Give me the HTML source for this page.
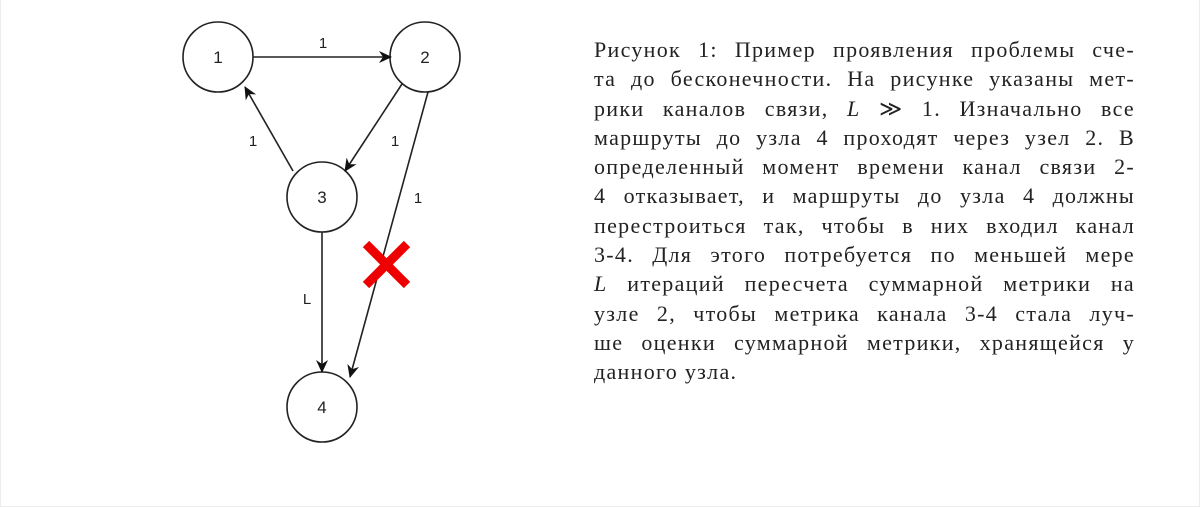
<!DOCTYPE html>
<html><head><meta charset="utf-8"><style>
body{margin:0;width:1200px;height:508px;background:#fff;overflow:hidden;position:relative}
.frame{position:absolute;left:0;top:0;width:1198px;height:506px;border:1px solid #ececec;border-top:none}
.txt{position:absolute;left:594px;top:35px;width:541px;font-family:"Liberation Serif",serif;font-size:22px;letter-spacing:1.3px;line-height:29.3px;color:#222}
.txt div{text-align:justify;text-align-last:justify;white-space:nowrap}
.txt div.last{text-align-last:left}
</style></head><body>
<div class="frame"></div>
<svg width="1200" height="508" style="position:absolute;left:0;top:0" font-family="Liberation Sans, sans-serif">
<defs><marker id="a" markerWidth="14" markerHeight="14" refX="12" refY="7" orient="auto" markerUnits="userSpaceOnUse"><path d="M0,1 L13,7 L0,13 L4,7 z" fill="#111"/></marker></defs>
<g fill="none" stroke="#222" stroke-width="1.6">
<circle cx="218" cy="57" r="35"/><circle cx="425" cy="57" r="35"/>
<circle cx="322" cy="197" r="35"/><circle cx="322" cy="407" r="35"/>
</g>
<g stroke="#222" stroke-width="1.6" marker-end="url(#a)">
<line x1="253" y1="57" x2="391" y2="57"/>
<line x1="293" y1="171" x2="245" y2="87"/>
<line x1="402" y1="84" x2="345" y2="171"/>
<line x1="428" y1="92" x2="350" y2="377"/>
<line x1="322" y1="232" x2="322" y2="372"/>
</g>
<g stroke="#e00" stroke-width="9"><line x1="366" y1="244" x2="407" y2="285"/><line x1="407" y1="244" x2="366" y2="285"/></g>
<g fill="#222" text-anchor="middle">
<text x="218" y="63" font-size="17">1</text><text x="425" y="63" font-size="17">2</text>
<text x="322" y="203" font-size="17">3</text><text x="322" y="413" font-size="17">4</text>
<text x="323" y="48" font-size="15">1</text><text x="253" y="146" font-size="15">1</text>
<text x="395" y="146" font-size="15">1</text><text x="418" y="203" font-size="15">1</text>
<text x="307" y="304" font-size="15">L</text>
</g>
</svg>
<div class="txt">
<div>Рисунок 1: Пример проявления проблемы сче-</div>
<div>та до бесконечности. На рисунке указаны мет-</div>
<div>рики каналов связи, <i>L</i> ≫ 1. Изначально все</div>
<div>маршруты до узла 4 проходят через узел 2. В</div>
<div>определенный момент времени канал связи 2-</div>
<div>4 отказывает, и маршруты до узла 4 должны</div>
<div>перестроиться так, чтобы в них входил канал</div>
<div>3-4. Для этого потребуется по меньшей мере</div>
<div><i>L</i> итераций пересчета суммарной метрики на</div>
<div>узле 2, чтобы метрика канала 3-4 стала луч-</div>
<div>ше оценки суммарной метрики, хранящейся у</div>
<div class="last">данного узла.</div>
</div>
</body></html>
